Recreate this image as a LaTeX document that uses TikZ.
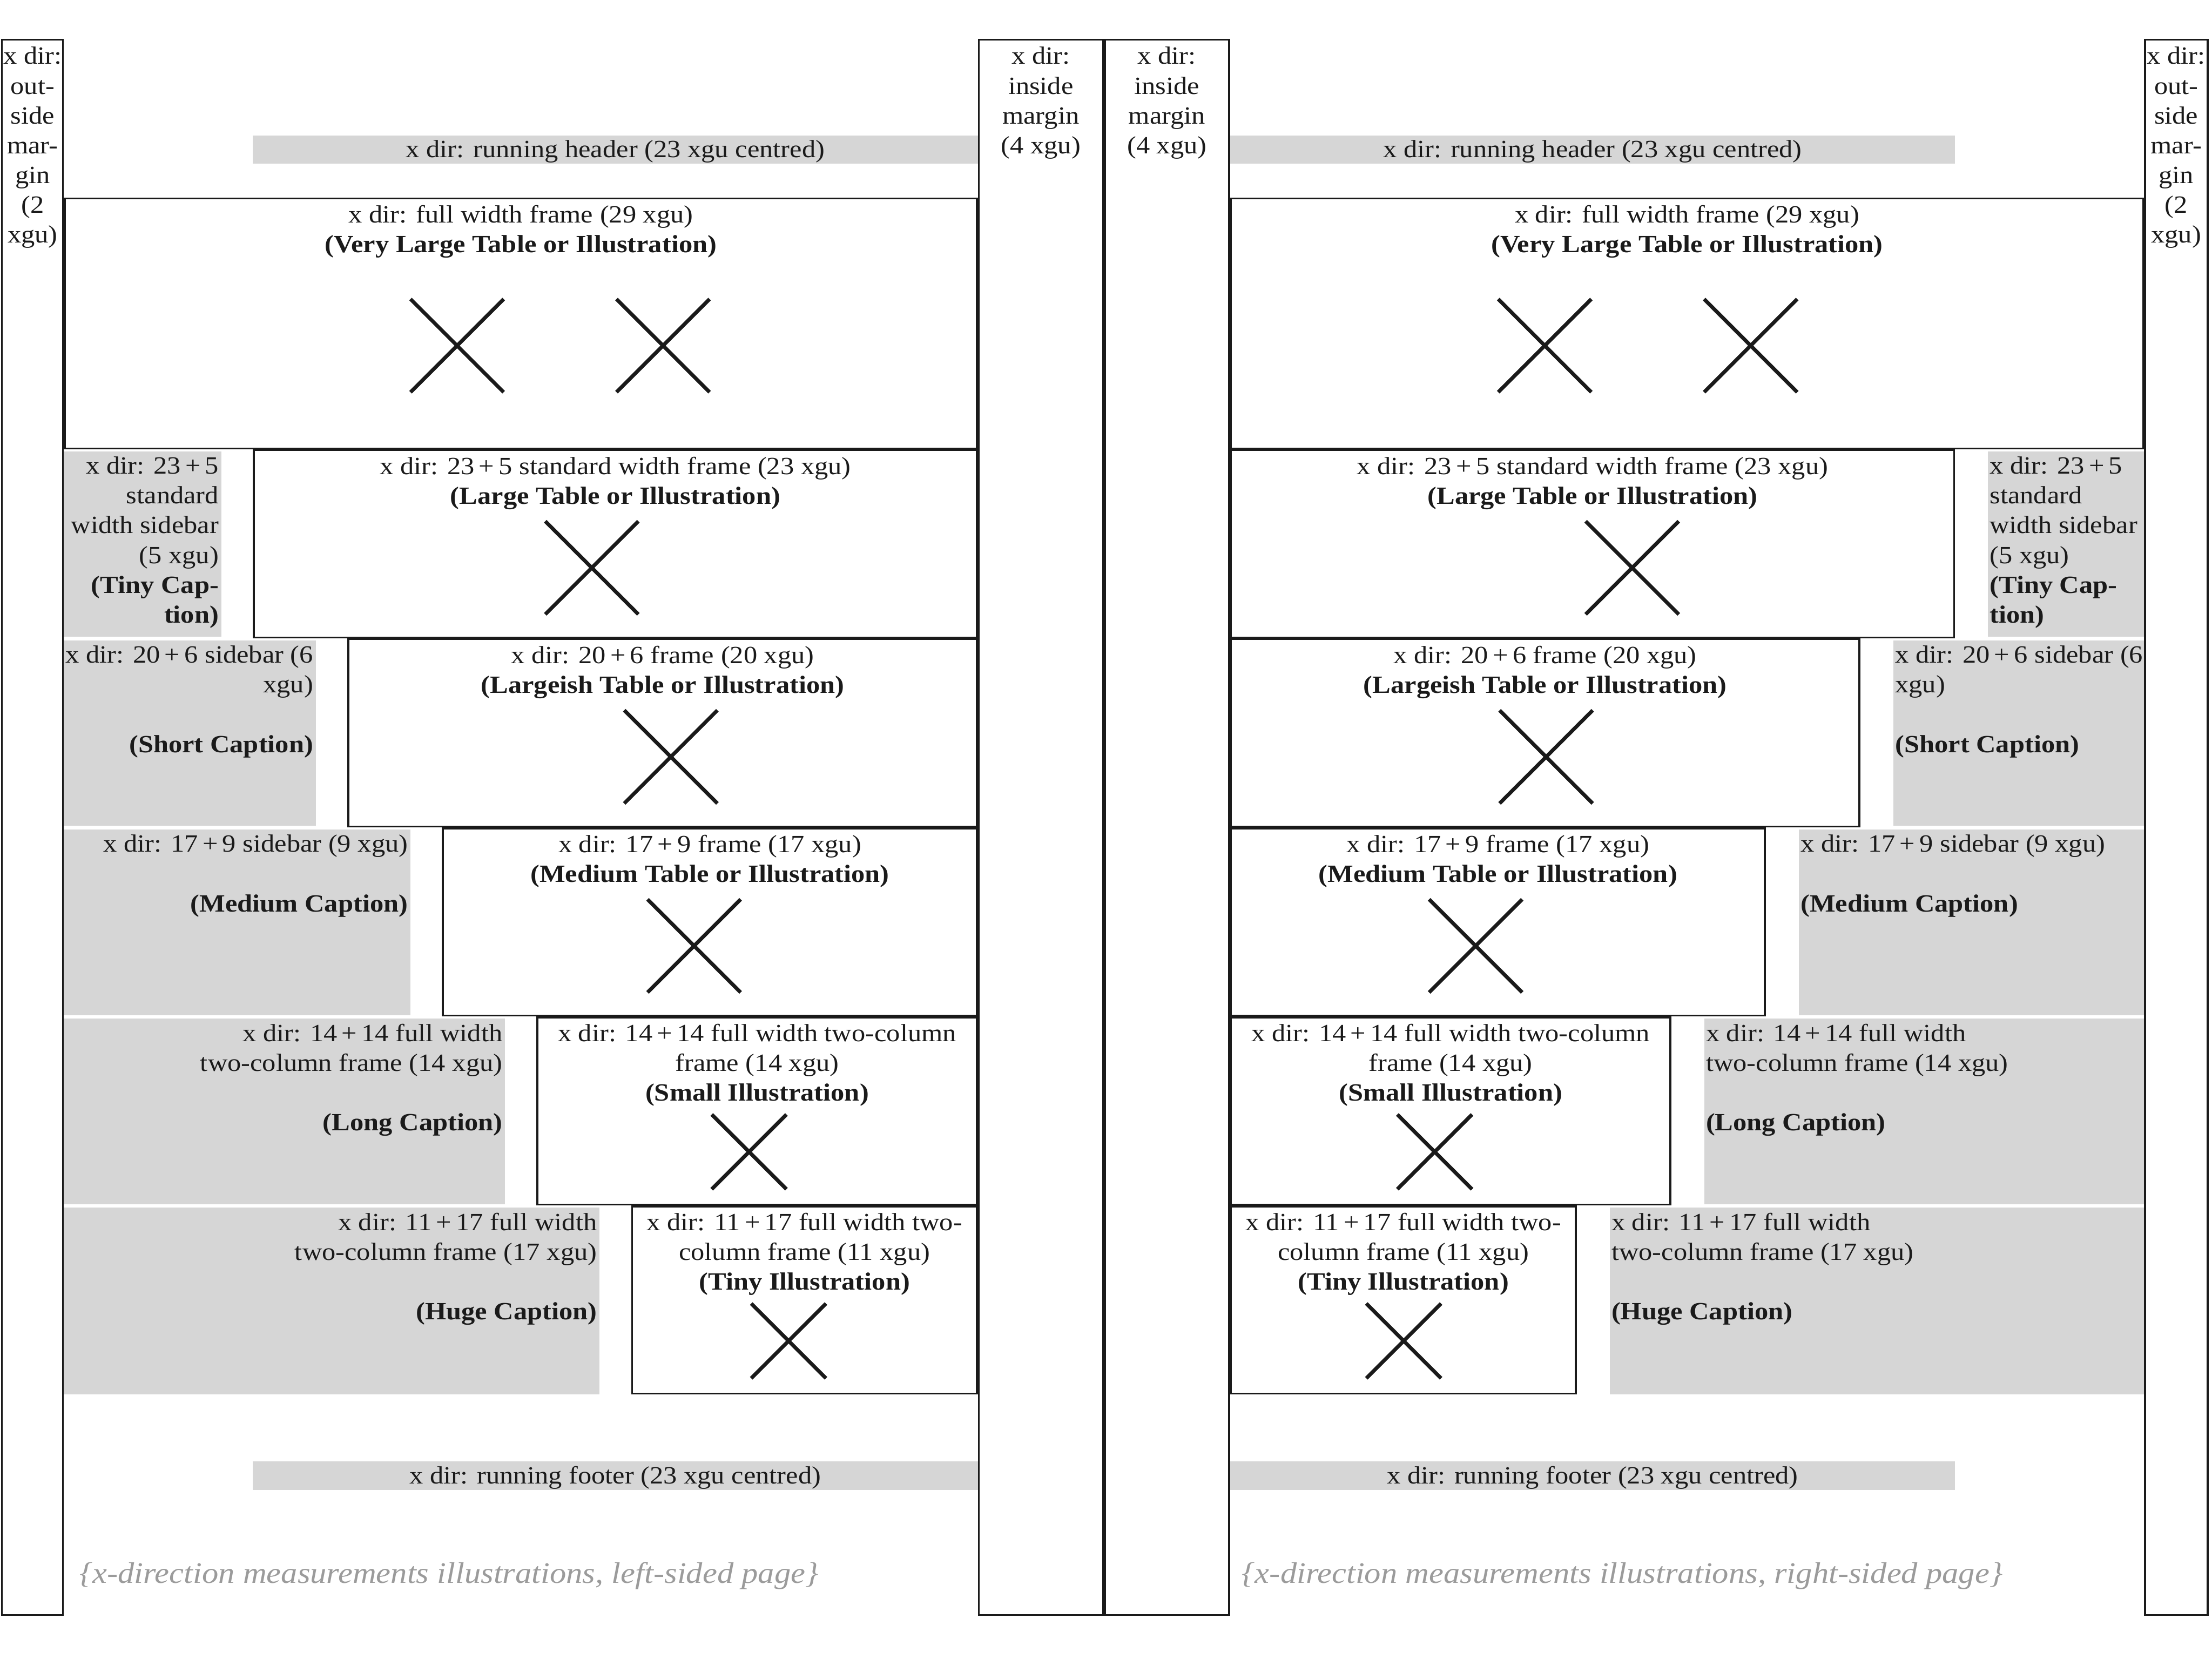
\documentclass[tikz,border=0pt]{standalone}
\usepackage{fontspec}
\setmainfont{Liberation Serif}[FakeStretch=1.1]
\definecolor{sbgray}{RGB}{214,214,214}
\definecolor{capgray}{RGB}{155,155,155}
\definecolor{ink}{RGB}{26,26,26}
\newcommand{\pl}[2]{#1\kern0.18em+\kern0.18em#2}
% frame drawn inside its box, so that shared borders add up
\newcommand{\frm}[4]{\draw[box] ({#1+0.66},{#2+0.66}) rectangle ({#3-0.66},{#4-0.66});}
\begin{document}
\begin{tikzpicture}[x=0.02cm,y=-0.02cm,
  box/.style={draw=ink,line width=0.75pt},
  graybar/.style={fill=sbgray,draw=none},
  txt/.style={inner sep=0pt,text=ink,font=\fontsize{10}{12}\selectfont},
  ctxt/.style={txt,align=center,anchor=north},
  ltxt/.style={txt,align=left,anchor=north west},
  rtxt/.style={txt,align=right,anchor=north east},
  captxt/.style={inner sep=0pt,anchor=west,text=capgray,font=\fontsize{12}{14}\selectfont\itshape},
  cross/.style={draw=ink,line width=1.5pt},
  pics/xmark/.style={code={\draw[cross] (-#1,-#1) -- (#1,#1) (-#1,#1) -- (#1,-#1);}}
]
\useasboundingbox (0,0) rectangle (1568,1176);

% ---------- gray bars (headers, footers, sidebars)
\fill[graybar] (179.2,96) rectangle (693.1,116);
\fill[graybar] (179.2,1036) rectangle (693.1,1056);
\fill[graybar] (871.9,96) rectangle (1385.8,116);
\fill[graybar] (871.9,1036) rectangle (1385.8,1056);
% left page sidebars
\fill[graybar] (45.2,320) rectangle (156.9,451.5);
\fill[graybar] (45.2,454) rectangle (223.9,585.5);
\fill[graybar] (45.2,588) rectangle (291.0,719.5);
\fill[graybar] (45.2,722) rectangle (358.0,853.5);
\fill[graybar] (45.2,856) rectangle (425.0,988.5);
% right page sidebars
\fill[graybar] (1409.1,320) rectangle (1519.8,451.5);
\fill[graybar] (1342.1,454) rectangle (1519.8,585.5);
\fill[graybar] (1275.1,588) rectangle (1519.8,719.5);
\fill[graybar] (1208.0,722) rectangle (1519.8,853.5);
\fill[graybar] (1141.0,856) rectangle (1519.8,988.5);

% ---------- margin columns
\frm{0.6}{27.5}{45.2}{1145.5}
\frm{693.1}{27.5}{782.5}{1145.5}
\frm{782.5}{27.5}{871.9}{1145.5}
\frm{1519.8}{27.5}{1565.5}{1145.5}

% ---------- left page frames
\frm{45.2}{140}{693.1}{318.5}
\frm{179.2}{318.5}{693.1}{452.5}
\frm{246.3}{452.5}{693.1}{586.5}
\frm{313.3}{586.5}{693.1}{720.5}
\frm{380.3}{720.5}{693.1}{854.5}
\frm{447.4}{854.5}{693.1}{988.5}

% ---------- right page frames
\frm{871.9}{140}{1519.8}{318.5}
\frm{871.9}{318.5}{1385.8}{452.5}
\frm{871.9}{452.5}{1318.7}{586.5}
\frm{871.9}{586.5}{1251.7}{720.5}
\frm{871.9}{720.5}{1184.7}{854.5}
\frm{871.9}{854.5}{1117.7}{988.5}

% ---------- crosses
\pic at (324,245) {xmark=33};
\pic at (470,245) {xmark=33};
\pic at (419.5,402.5) {xmark=33};
\pic at (475.5,536.5) {xmark=33};
\pic at (492,670.5) {xmark=33};
\pic at (531,816.5) {xmark=26.5};
\pic at (559,950.5) {xmark=26.5};
\pic at (1095,245) {xmark=33};
\pic at (1241,245) {xmark=33};
\pic at (1157,402.5) {xmark=33};
\pic at (1096,536.5) {xmark=33};
\pic at (1046,670.5) {xmark=33};
\pic at (1017,816.5) {xmark=26.5};
\pic at (995,950.5) {xmark=26.5};

% ---------- margin texts
\node[ctxt] (lom) at (23.1,33) {x dir:\\out-\\side\\mar-\\gin\\(2\\xgu)};
\node[ctxt] (lim) at (737.8,33) {x dir:\\inside\\margin\\(4 xgu)};
\node[ctxt] (rim) at (827.2,33) {x dir:\\inside\\margin\\(4 xgu)};
\node[ctxt] (rom) at (1542.6,33) {x dir:\\out-\\side\\mar-\\gin\\(2\\xgu)};

% ---------- header / footer texts
\node[txt] (lhead) at (436.2,107.5) {x dir: running header (23 xgu centred)};
\node[txt] (rhead) at (1128.9,107.5) {x dir: running header (23 xgu centred)};
\node[txt] (lfoot) at (436.2,1047.5) {x dir: running footer (23 xgu centred)};
\node[txt] (rfoot) at (1128.9,1047.5) {x dir: running footer (23 xgu centred)};

% ---------- left page frame texts
\node[ctxt] (lf1) at (369.2,145) {x dir: full width frame (29 xgu)\\\textbf{(Very Large Table or Illustration)}};
\node[ctxt] (lf2) at (436.2,323.5) {x dir: \pl{23}{5} standard width frame (23 xgu)\\\textbf{(Large Table or Illustration)}};
\node[ctxt] (lf3) at (469.7,457.5) {x dir: \pl{20}{6} frame (20 xgu)\\\textbf{(Largeish Table or Illustration)}};
\node[ctxt] (lf4) at (503.2,591.5) {x dir: \pl{17}{9} frame (17 xgu)\\\textbf{(Medium Table or Illustration)}};
\node[ctxt] (lf5) at (536.7,725.5) {x dir: \pl{14}{14} full width two-column\\frame (14 xgu)\\\textbf{(Small Illustration)}};
\node[ctxt] (lf6) at (570.3,859.5) {x dir: \pl{11}{17} full width two-\\column frame (11 xgu)\\\textbf{(Tiny Illustration)}};

% ---------- right page frame texts
\node[ctxt] (rf1) at (1195.9,145) {x dir: full width frame (29 xgu)\\\textbf{(Very Large Table or Illustration)}};
\node[ctxt] (rf2) at (1128.9,323.5) {x dir: \pl{23}{5} standard width frame (23 xgu)\\\textbf{(Large Table or Illustration)}};
\node[ctxt] (rf3) at (1095.3,457.5) {x dir: \pl{20}{6} frame (20 xgu)\\\textbf{(Largeish Table or Illustration)}};
\node[ctxt] (rf4) at (1061.8,591.5) {x dir: \pl{17}{9} frame (17 xgu)\\\textbf{(Medium Table or Illustration)}};
\node[ctxt] (rf5) at (1028.3,725.5) {x dir: \pl{14}{14} full width two-column\\frame (14 xgu)\\\textbf{(Small Illustration)}};
\node[ctxt] (rf6) at (994.8,859.5) {x dir: \pl{11}{17} full width two-\\column frame (11 xgu)\\\textbf{(Tiny Illustration)}};

% ---------- left page sidebar texts
\node[rtxt] (ls2) at (155.4,323.5) {x dir: \pl{23}{5}\\standard\\width sidebar\\(5 xgu)\\\textbf{(Tiny Cap-}\\\textbf{tion)}};
\node[rtxt] (ls3) at (222.4,457.5) {x dir: \pl{20}{6} sidebar (6\\xgu)\\[12pt]\textbf{(Short Caption)}};
\node[rtxt] (ls4) at (289.5,591.5) {x dir: \pl{17}{9} sidebar (9 xgu)\\[12pt]\textbf{(Medium Caption)}};
\node[rtxt] (ls5) at (356.5,725.5) {x dir: \pl{14}{14} full width\\two-column frame (14 xgu)\\[12pt]\textbf{(Long Caption)}};
\node[rtxt] (ls6) at (423.5,859.5) {x dir: \pl{11}{17} full width\\two-column frame (17 xgu)\\[12pt]\textbf{(Huge Caption)}};

% ---------- right page sidebar texts
\node[ltxt] (rs2) at (1410.1,323.5) {x dir: \pl{23}{5}\\standard\\width sidebar\\(5 xgu)\\\textbf{(Tiny Cap-}\\\textbf{tion)}};
\node[ltxt] (rs3) at (1343.1,457.5) {x dir: \pl{20}{6} sidebar (6\\xgu)\\[12pt]\textbf{(Short Caption)}};
\node[ltxt] (rs4) at (1276.1,591.5) {x dir: \pl{17}{9} sidebar (9 xgu)\\[12pt]\textbf{(Medium Caption)}};
\node[ltxt] (rs5) at (1209.0,725.5) {x dir: \pl{14}{14} full width\\two-column frame (14 xgu)\\[12pt]\textbf{(Long Caption)}};
\node[ltxt] (rs6) at (1142.0,859.5) {x dir: \pl{11}{17} full width\\two-column frame (17 xgu)\\[12pt]\textbf{(Huge Caption)}};

% ---------- page captions
\node[captxt] (lcap) at (56,1117) {\{x-direction measurements illustrations, left-sided page\}};
\node[captxt] (rcap) at (880,1117) {\{x-direction measurements illustrations, right-sided page\}};
\end{tikzpicture}
\end{document}
